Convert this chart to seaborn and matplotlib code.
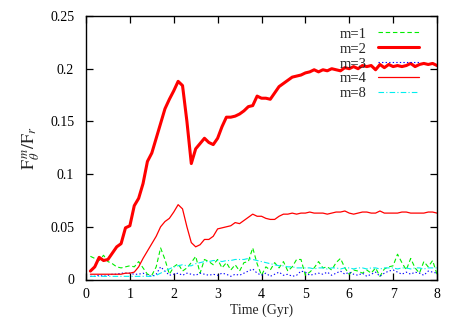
import numpy as np
import pandas as pd
import matplotlib
matplotlib.use("Agg")
import matplotlib.pyplot as plt
import seaborn as sns

time = [round(0.1 * i, 1) for i in range(1, 81)]

m1 = [0.022, 0.020, 0.018, 0.023, 0.017, 0.015, 0.012, 0.011, 0.012, 0.013,
      0.012, 0.017, 0.011, 0.005, 0.004, 0.012, 0.030, 0.019, 0.005, 0.012,
      0.015, 0.008, 0.011, 0.016, 0.022, 0.006, 0.019, 0.017, 0.014, 0.019,
      0.011, 0.016, 0.009, 0.014, 0.008, 0.016, 0.017, 0.030, 0.015, 0.004,
      0.012, 0.009, 0.016, 0.011, 0.017, 0.008, 0.012, 0.019, 0.019, 0.004,
      0.007, 0.011, 0.017, 0.011, 0.012, 0.009, 0.016, 0.020, 0.011, 0.005,
      0.009, 0.008, 0.006, 0.009, 0.006, 0.011, 0.003, 0.010, 0.012, 0.013,
      0.024, 0.016, 0.009, 0.020, 0.011, 0.006, 0.017, 0.012, 0.018, 0.005]

m2 = [0.008, 0.012, 0.021, 0.018, 0.019, 0.025, 0.031, 0.034, 0.049, 0.051,
      0.070, 0.077, 0.091, 0.112, 0.120, 0.134, 0.148, 0.162, 0.171, 0.179,
      0.188, 0.184, 0.150, 0.110, 0.124, 0.129, 0.134, 0.130, 0.128, 0.134,
      0.145, 0.154, 0.154, 0.155, 0.157, 0.160, 0.164, 0.165, 0.174, 0.172,
      0.172, 0.171, 0.177, 0.183, 0.186, 0.189, 0.192, 0.193, 0.194, 0.196,
      0.197, 0.199, 0.197, 0.199, 0.198, 0.200, 0.199, 0.198, 0.201, 0.200,
      0.202, 0.200, 0.203, 0.202, 0.203, 0.199, 0.204, 0.201, 0.204, 0.202,
      0.203, 0.202, 0.203, 0.205, 0.202, 0.204, 0.205, 0.204, 0.205, 0.203]

m3 = [0.003, 0.003, 0.004, 0.003, 0.004, 0.005, 0.005, 0.006, 0.006, 0.006,
      0.005, 0.005, 0.006, 0.004, 0.003, 0.005, 0.012, 0.008, 0.004, 0.005,
      0.006, 0.004, 0.006, 0.005, 0.004, 0.006, 0.005, 0.004, 0.005, 0.004,
      0.006, 0.005, 0.003, 0.005, 0.004, 0.006, 0.008, 0.010, 0.006, 0.004,
      0.006, 0.003, 0.005, 0.007, 0.004, 0.005, 0.003, 0.004, 0.008, 0.007,
      0.004, 0.005, 0.006, 0.005, 0.007, 0.004, 0.006, 0.008, 0.005, 0.007,
      0.005, 0.004, 0.006, 0.003, 0.005, 0.007, 0.003, 0.006, 0.008, 0.009,
      0.007, 0.005, 0.007, 0.005, 0.007, 0.006, 0.004, 0.008, 0.007, 0.006]

m4 = [0.005, 0.005, 0.005, 0.005, 0.005, 0.005, 0.005, 0.005, 0.006, 0.006,
      0.007, 0.012, 0.020, 0.027, 0.034, 0.041, 0.050, 0.055, 0.058, 0.064,
      0.071, 0.067, 0.050, 0.035, 0.031, 0.033, 0.038, 0.038, 0.041, 0.048,
      0.049, 0.050, 0.051, 0.054, 0.053, 0.056, 0.059, 0.062, 0.060, 0.060,
      0.058, 0.057, 0.057, 0.060, 0.062, 0.062, 0.063, 0.062, 0.063, 0.063,
      0.064, 0.063, 0.063, 0.063, 0.062, 0.063, 0.064, 0.064, 0.065, 0.063,
      0.062, 0.063, 0.064, 0.064, 0.063, 0.063, 0.065, 0.063, 0.063, 0.063,
      0.063, 0.064, 0.064, 0.063, 0.063, 0.063, 0.063, 0.064, 0.064, 0.063]

m8 = [0.003, 0.003, 0.003, 0.003, 0.003, 0.003, 0.003, 0.003, 0.003, 0.003,
      0.003, 0.003, 0.003, 0.003, 0.003, 0.004, 0.006, 0.008, 0.010, 0.012,
      0.013, 0.014, 0.013, 0.013, 0.015, 0.016, 0.017, 0.017, 0.018, 0.018,
      0.017, 0.018, 0.018, 0.019, 0.019, 0.019, 0.020, 0.019, 0.018, 0.017,
      0.016, 0.015, 0.014, 0.013, 0.013, 0.012, 0.012, 0.011, 0.011, 0.011,
      0.011, 0.010, 0.011, 0.011, 0.010, 0.011, 0.011, 0.010, 0.011, 0.011,
      0.010, 0.011, 0.011, 0.010, 0.011, 0.011, 0.010, 0.011, 0.011, 0.011,
      0.010, 0.011, 0.011, 0.010, 0.011, 0.011, 0.010, 0.011, 0.011, 0.011]

labels = ["m=1", "m=2", "m=3", "m=4", "m=8"]
x_ticks = [0, 1, 2, 3, 4, 5, 6, 7, 8]
y_ticks = [0, 0.05, 0.1, 0.15, 0.2, 0.25]
y_tick_labels = ["0", "0.05", "0.1", "0.15", "0.2", "0.25"]

sns.set_style("ticks")
plt.rcParams["font.family"] = ["Liberation Serif", "DejaVu Serif"]
plt.rcParams["mathtext.fontset"] = "stix"

fig = plt.figure(figsize=(4.63, 3.24), dpi=100)
ax = fig.add_axes([86 / 463, 1 - 279.5 / 324, (437 - 86) / 463, (279.5 - 16) / 324])

styles = [
    dict(color="#00ee00", lw=0.8, ls=(0, (4, 2.5))),
    dict(color="#ff0000", lw=2.2, ls="-"),
    dict(color="#0000ff", lw=0.8, ls=(0, (1.2, 2))),
    dict(color="#ff0000", lw=0.9, ls="-"),
    dict(color="#00eeee", lw=0.8, ls=(0, (5, 2, 1, 2))),
]
series = [m1, m2, m3, m4, m8]
for lab, ys, st in zip(labels, series, styles):
    df = pd.DataFrame({"t": time, "v": ys})
    sns.lineplot(data=df, x="t", y="v", ax=ax, label=lab, **st)

ax.set_xlim(0, 8)
ax.set_ylim(0, 0.25)
ax.set_xticks(x_ticks)
ax.set_xticklabels([str(t) for t in x_ticks])
ax.set_yticks(y_ticks)
ax.set_yticklabels(y_tick_labels)
ax.tick_params(direction="in", top=True, right=True, length=5, width=0.9,
               labelsize=10, colors="black")
ax.tick_params(axis="y", pad=8.5)
ax.tick_params(axis="x", pad=6)
for s in ax.spines.values():
    s.set_visible(True)
    s.set_linewidth(1.0)
    s.set_color("black")

ax.set_xlabel("Time (Gyr)", fontsize=10, labelpad=2)
ax.set_ylabel(r"$\mathrm{F}_{\theta}^{\,m}/\mathrm{F}_{r}$", fontsize=13, labelpad=6)

leg = ax.legend(loc="upper right", frameon=False, markerfirst=False,
                fontsize=10.5, handlelength=2.8, labelspacing=0.12,
                borderaxespad=0.2, handletextpad=0.8,
                bbox_to_anchor=(0.973, 0.99))

fig.savefig("out.png", dpi=100)
